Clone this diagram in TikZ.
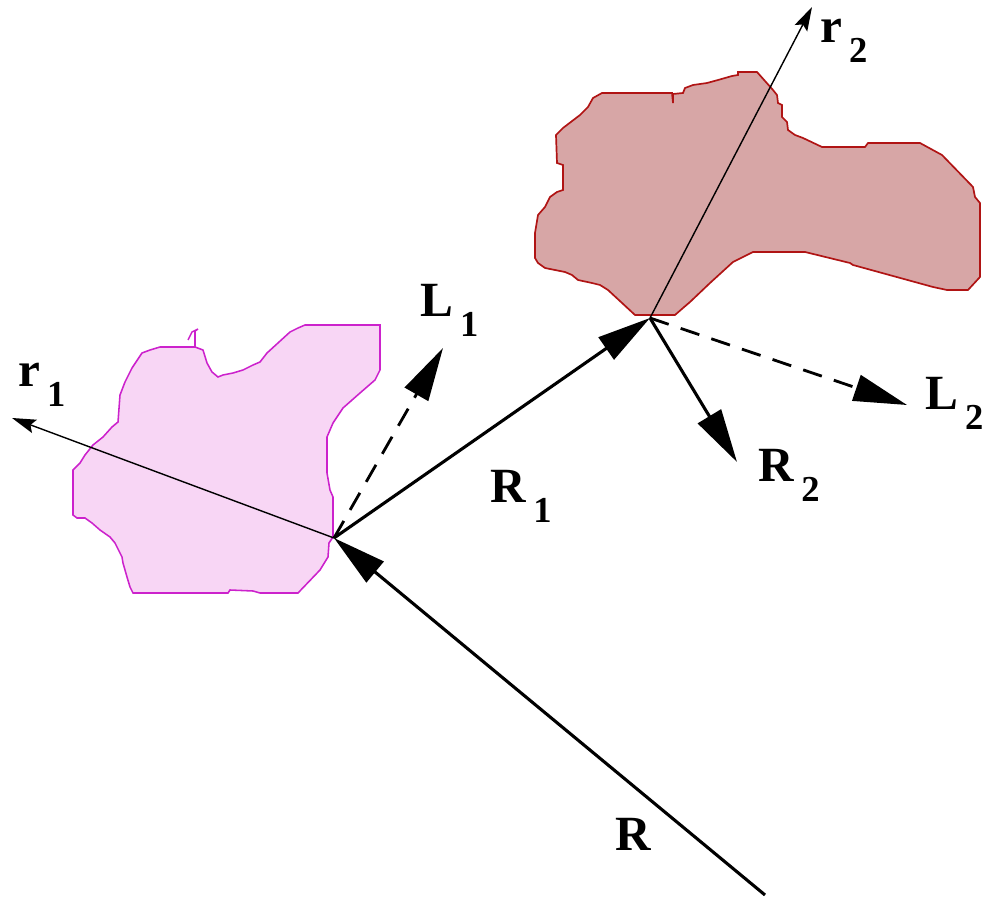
\documentclass[tikz,border=0pt]{standalone}
\usepackage{fontspec}
\setmainfont{Liberation Serif}
\usetikzlibrary{arrows.meta}
\definecolor{blobApink}{HTML}{F8D6F5}
\definecolor{blobAedge}{HTML}{CC22CC}
\definecolor{blobBfill}{HTML}{D7A6A6}
\definecolor{blobBedge}{HTML}{B01414}
\newcommand\veclab[2]{\textbf{#1}\hspace{5pt}\raisebox{-14pt}{\fontsize{26}{26}\selectfont\textbf{#2}}}
\tikzset{
 axis/.style={line width=1pt,-{Stealth[length=17pt,width=10pt,inset=3pt]}},
 bigvec/.style={line width=2.2pt,-{Triangle[length=38pt,width=19pt]}},
 dashvec/.style={line width=2pt,dash pattern=on 14pt off 9pt,-{Triangle[length=38pt,width=19pt]}},
 blobA/.style={draw=blobAedge,fill=blobApink,line width=1.1pt},
 blobB/.style={draw=blobBedge,fill=blobBfill,line width=1.2pt},
 veclabel/.style={inner sep=0,anchor=base west,font=\fontsize{35}{35}\selectfont}
}
\begin{document}
\begin{tikzpicture}[x=0.025cm,y=-0.025cm]
\path[use as bounding box] (0,0) rectangle (982,905);
\draw[blobA] (380,325)--(380,370)--(375,380)--(360,393)--(343,408)--(333,423)--(327,437)--(327,473)--(330,490)--(333,497)--(333,537)--(329,543)--(328,557)--(320,570)--(298,593)--(260,593)--(253,591)--(230,590)--(228,593)--(133,593)--(130,587)--(127,577)--(123,563)--(122,557)--(115,543)--(110,537)--(100,530)--(92,523)--(85,518)--(77,518)--(73,515)--(73,470)--(80,463)--(85,455)--(93,445)--(103,437)--(112,427)--(118,422)--(120,395)--(125,382)--(132,368)--(142,353)--(150,350)--(160,347)--(195,347)--(195,331)--(195,347)--(203,350)--(207,363)--(212,372)--(218,377)--(223,375)--(233,373)--(243,370)--(253,365)--(260,362)--(267,353)--(290,332)--(298,328)--(305,325)--cycle;
\draw[blobAedge,line width=1.1pt] (195,331)--(198,329)--(192,332)--(188,340);
\draw[blobB] (602,93)--(672,93)--(673,103)--(673,94)--(683,93)--(685,88)--(693,85)--(707,83)--(718,80)--(732,76)--(738,75)--(738,72)--(757,72)--(773,90)--(777,95)--(778,103)--(782,105)--(782,117)--(787,122)--(788,130)--(795,135)--(803,138)--(822,147)--(865,147)--(868,143)--(920,143)--(942,155)--(973,187)--(975,197)--(980,203)--(980,277)--(968,290)--(947,290)--(933,287)--(853,265)--(850,263)--(805,252)--(753,252)--(733,262)--(710,283)--(690,302)--(683,308)--(675,315)--(635,315)--(608,290)--(600,285)--(592,283)--(578,280)--(572,275)--(565,272)--(545,268)--(538,263)--(535,258)--(535,233)--(538,215)--(545,207)--(550,197)--(557,192)--(563,190)--(563,165)--(557,163)--(556,135)--(563,128)--(580,115)--(588,107)--(593,98)--cycle;
\coordinate (P1) at (334,538);
\coordinate (P2) at (650,318);
\coordinate (Rstart) at (765,895);
\coordinate (r1tip) at (12,418);
\coordinate (r2tip) at (812,7);
\coordinate (L1tip) at (443,348);
\coordinate (L2tip) at (907,405);
\coordinate (R2tip) at (737,462);
\draw[axis] (P1) -- (r1tip);
\draw[axis] (P2) -- (r2tip);
\draw[bigvec] (Rstart) -- (P1);
\draw[bigvec] (P1) -- (P2);
\draw[bigvec] (P2) -- (R2tip);
\draw[dashvec] (P1) -- (L1tip);
\draw[dashvec] (P2) -- (L2tip);
\node[veclabel] (labr1) at (18,387) {\veclab{r}{1}};
\node[veclabel] (labL1) at (420,317) {\veclab{L}{1}};
\node[veclabel] (labR1) at (490,503) {\veclab{R}{1}};
\node[veclabel] (labR) at (615,850) {\textbf{R}};
\node[veclabel] (labr2) at (820,43) {\veclab{r}{2}};
\node[veclabel] (labL2) at (925,410) {\veclab{L}{2}};
\node[veclabel] (labR2) at (758,482) {\veclab{R}{2}};
\end{tikzpicture}
\end{document}
